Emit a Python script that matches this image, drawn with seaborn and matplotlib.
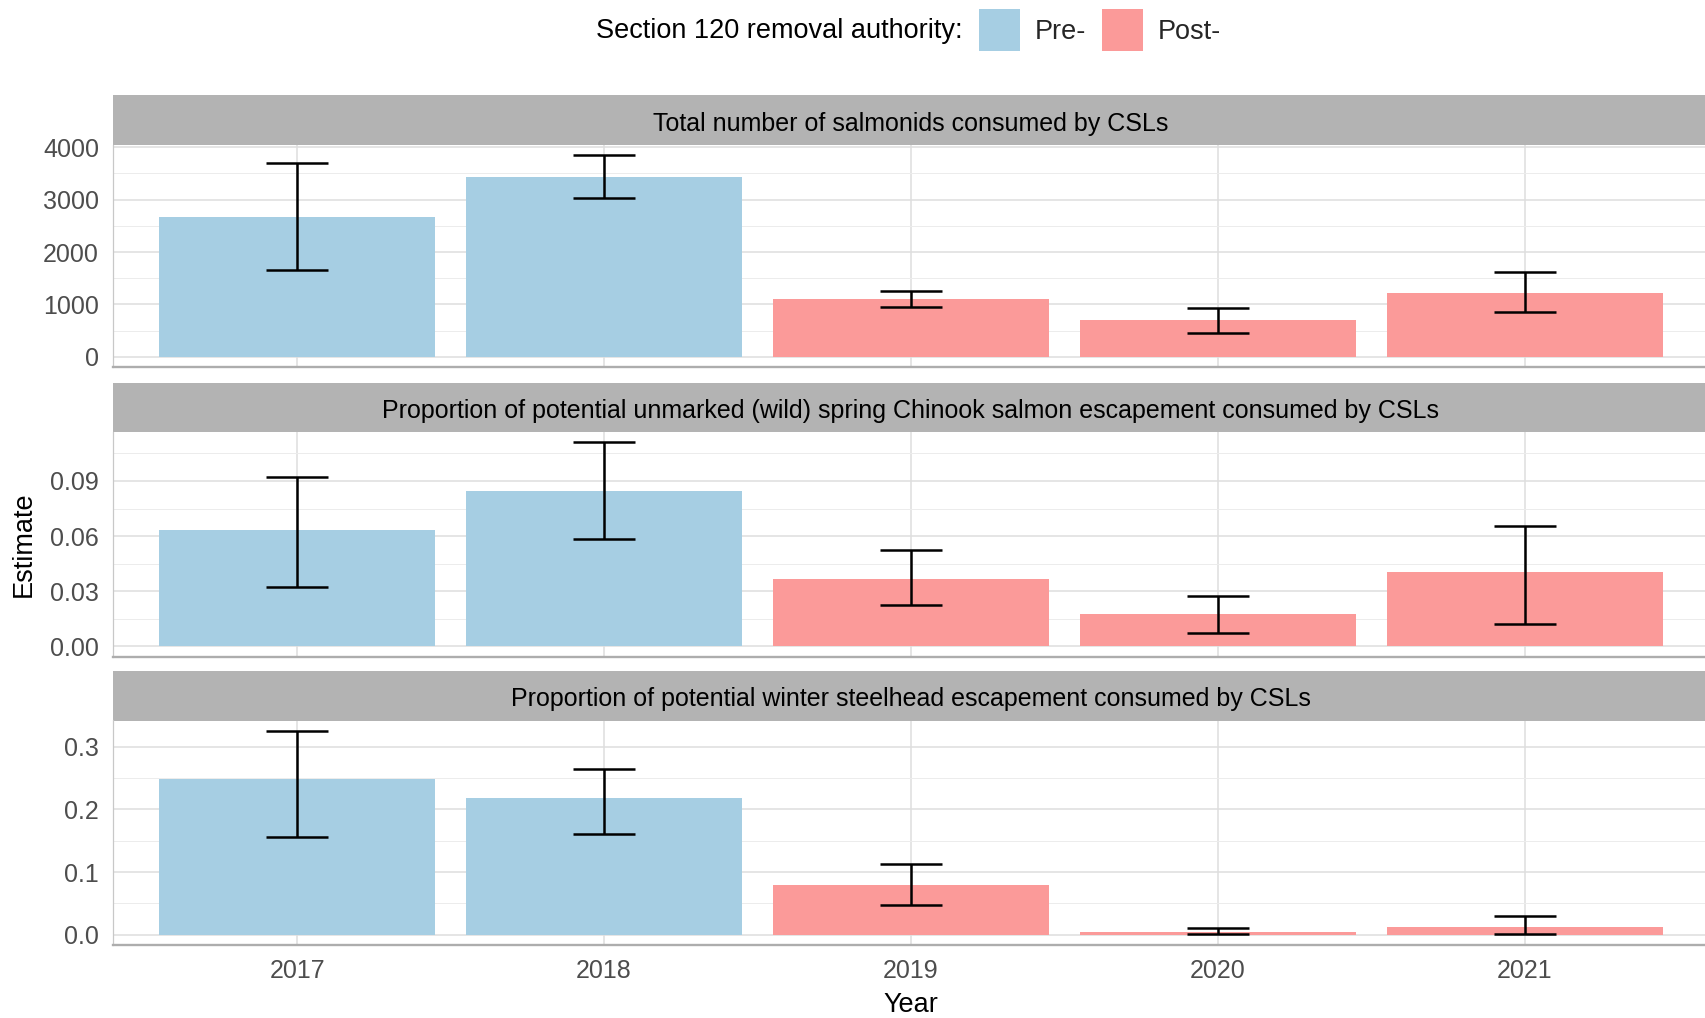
import numpy as np
import pandas as pd
import matplotlib
matplotlib.use("Agg")
import matplotlib.pyplot as plt
import seaborn as sns
from matplotlib.patches import Patch
from matplotlib.ticker import MultipleLocator, FormatStrFormatter

# ---- data -------------------------------------------------------------
years = ["2017", "2018", "2019", "2020", "2021"]
period = ["Pre-", "Pre-", "Post-", "Post-", "Post-"]
period_order = ["Pre-", "Post-"]

total_est = [2670, 3440, 1110, 705, 1220]
total_lo = [1652, 3030, 948, 463, 858]
total_hi = [3703, 3850, 1263, 928, 1612]

chinook_est = [0.0632, 0.0846, 0.0368, 0.0175, 0.0402]
chinook_lo = [0.0322, 0.0586, 0.0225, 0.0072, 0.0120]
chinook_hi = [0.0924, 0.1111, 0.0523, 0.0272, 0.0653]

steelhead_est = [0.2488, 0.2178, 0.0800, 0.0042, 0.0127]
steelhead_lo = [0.1553, 0.1608, 0.0477, 0.0010, 0.0010]
steelhead_hi = [0.3254, 0.2643, 0.1122, 0.0106, 0.0300]

panel_titles = [
    "Total number of salmonids consumed by CSLs",
    "Proportion of potential unmarked (wild) spring Chinook salmon escapement consumed by CSLs",
    "Proportion of potential winter steelhead escapement consumed by CSLs",
]
panel_est = [total_est, chinook_est, steelhead_est]
panel_lo = [total_lo, chinook_lo, steelhead_lo]
panel_hi = [total_hi, chinook_hi, steelhead_hi]
panel_step = [1000, 0.03, 0.1]
panel_fmt = ["%d", "%.2f", "%.1f"]

colors = {"Pre-": "#A6CEE3", "Post-": "#FB9A99"}
legend_title = "Section 120 removal authority:"

# ---- styling ----------------------------------------------------------
sns.set_theme(style="white")
plt.rcParams["font.family"] = ["Liberation Sans", "DejaVu Sans"]

W, H = 1705, 1018
fig = plt.figure(figsize=(W / 100, H / 100), dpi=100)


def box(left, top, right, bottom):
    return [left / W, 1 - bottom / H, (right - left) / W, (bottom - top) / H]


left_px, right_px = 113, 1709
strips = [(95, 145), (383, 432), (671, 720.5)]
panels = [(145, 367), (432, 656.5), (720.5, 945)]

for i in range(3):
    s_top, s_bot = strips[i]
    p_top, p_bot = panels[i]

    # facet strip
    sax = fig.add_axes(box(left_px, s_top, right_px, s_bot))
    sax.set_facecolor("#B3B3B3")
    sax.set_xticks([])
    sax.set_yticks([])
    for sp in sax.spines.values():
        sp.set_visible(False)
    sax.text(0.5, 0.5 - 3.5 / (s_bot - s_top), panel_titles[i], ha="center",
             va="center", fontsize=18, color="black", transform=sax.transAxes)

    # panel
    ax = fig.add_axes(box(left_px, p_top, right_px, p_bot))
    df = pd.DataFrame({"Year": years, "Estimate": panel_est[i],
                       "Period": period, "lo": panel_lo[i], "hi": panel_hi[i]})
    sns.barplot(data=df, x="Year", y="Estimate", hue="Period",
                hue_order=period_order, palette=colors, dodge=False,
                width=0.9, errorbar=None, saturation=1, linewidth=0,
                legend=False, ax=ax)
    est = df["Estimate"].to_numpy()
    ax.errorbar(np.arange(len(years)), est,
                yerr=[est - df["lo"].to_numpy(), df["hi"].to_numpy() - est],
                fmt="none", ecolor="black", elinewidth=1.8,
                capsize=22, capthick=1.8, zorder=5)

    lo = min(0.0, df["lo"].min())
    hi = df["hi"].max()
    pad = (hi - lo) * 0.05
    ax.set_ylim(lo - pad, hi + pad)
    ax.set_xlim(-0.6, len(years) - 0.4)

    step = panel_step[i]
    ax.yaxis.set_major_locator(MultipleLocator(step))
    ax.yaxis.set_minor_locator(MultipleLocator(step / 2))
    ax.yaxis.set_major_formatter(FormatStrFormatter(panel_fmt[i]))

    ax.set_axisbelow(True)
    ax.grid(which="major", axis="both", color="#DEDEDE", linewidth=1.1)
    ax.grid(which="minor", axis="y", color="#ECECEC", linewidth=0.7)

    for side in ["top", "right"]:
        ax.spines[side].set_visible(False)
    ax.spines["left"].set_color("#C8C8C8")
    ax.spines["left"].set_linewidth(0.9)
    ax.spines["bottom"].set_color("#ADADAD")
    ax.spines["bottom"].set_linewidth(1.7)

    ax.tick_params(axis="y", which="major", length=6, width=0.8,
                   color="#B3B3B3", labelsize=18, labelcolor="#4D4D4D", pad=4)
    ax.tick_params(which="minor", length=0)
    ax.set_ylabel("")
    ax.set_xlabel("")
    if i < 2:
        ax.tick_params(axis="x", length=0, labelbottom=False)
    else:
        ax.tick_params(axis="x", length=6, width=0.8, color="#B3B3B3",
                       labelsize=18, labelcolor="#4D4D4D", pad=4)

# axis titles
fig.text(24 / W, 1 - 544 / H, "Estimate", rotation=90, ha="center",
         va="center", fontsize=19.5, color="black")
fig.text(911 / W, 1 - 1005 / H, "Year", ha="center", va="center",
         fontsize=19.5, color="black")

# legend across the top
fs_px = 27
fig.text(963 / W, 1 - 31 / H, legend_title, ha="right", va="center",
         fontsize=19.5, color="black")
handles = [Patch(facecolor=colors[p], edgecolor="none") for p in period_order]
fig.legend(handles, period_order, loc="center left",
           bbox_to_anchor=(979 / W, 1 - 30 / H), ncol=2, frameon=False,
           fontsize=19.5, handlelength=41 / fs_px,
           handleheight=39 / (0.7 * fs_px),
           handletextpad=15 / fs_px, columnspacing=15 / fs_px,
           borderpad=0, borderaxespad=0)

fig.savefig("out.png", dpi=100, facecolor="white")
